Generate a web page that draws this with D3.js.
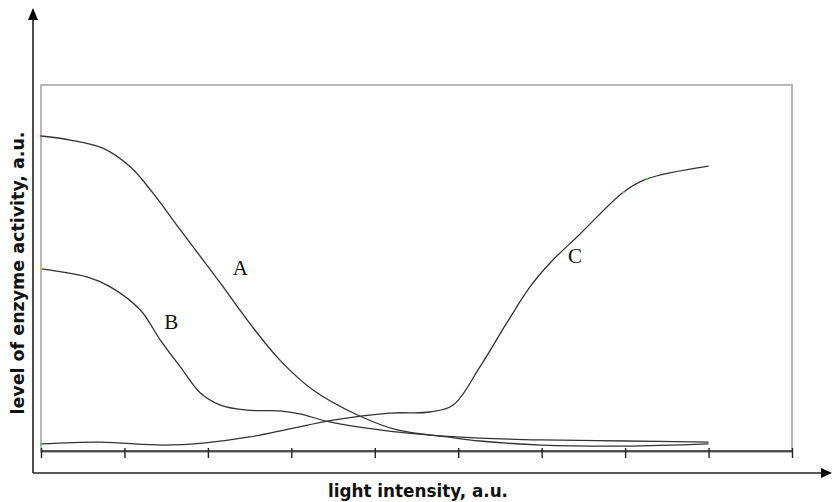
<!DOCTYPE html>
<html>
<head>
<meta charset="utf-8">
<script src="https://cdn.jsdelivr.net/npm/d3@7/dist/d3.min.js"></script>
<style>
  html, body { margin: 0; padding: 0; background: #fff; }
  svg { display: block; }
</style>
</head>
<body>
<svg id="chart" width="832" height="502"></svg>
<script>
// Light intensity (a.u.) positions along the x axis, one tick per unit
const xTicks = [0, 1, 2, 3, 4, 5, 6, 7, 8, 9];

// Enzyme A: high at low light, falls steeply
const curveA = [
  [0, 86.1], [0.35, 85.0], [0.74, 82.8], [1.07, 77.7], [1.34, 70.6],
  [1.67, 60.5], [2.15, 46.0], [2.5, 35.1], [2.86, 25.1], [3.26, 16.9],
  [3.82, 9.8], [4.27, 6.0], [4.87, 4.1], [5.26, 3.0], [6.0, 1.9],
  [7.0, 1.6], [8.0, 2.2]
];

// Enzyme B: moderate at low light, drops to a shoulder then decays
const curveB = [
  [0, 49.9], [0.55, 47.7], [0.83, 45.0], [1.19, 38.7], [1.43, 30.5],
  [1.67, 23.2], [1.91, 16.1], [2.15, 12.8], [2.47, 11.4], [2.86, 11.2],
  [3.1, 10.4], [3.46, 8.2], [4.06, 6.0], [4.66, 4.6], [5.26, 3.8],
  [6.0, 3.3], [7.0, 3.0], [8.0, 2.7]
];

// Enzyme C: low at low light, rises sigmoidally at high light
const curveC = [
  [0, 2.2], [0.71, 2.7], [1.46, 1.9], [1.97, 2.5], [2.5, 4.1],
  [2.98, 6.3], [3.5, 8.7], [4.18, 10.6], [4.66, 10.9], [4.94, 12.8],
  [5.26, 23.2], [5.58, 35.1], [5.86, 45.0], [6.1, 51.5], [6.46, 59.4],
  [6.98, 70.8], [7.26, 74.4], [8.0, 77.9]
];

// Curve names and where each name sits (in data units)
const labels = [
  { text: "A", x: 2.39, y: 48.2 },
  { text: "B", x: 1.56, y: 33.5 },
  { text: "C", x: 6.4, y: 51.6 }
];

const xTitle = "light intensity, a.u.";
const yTitle = "level of enzyme activity, a.u.";

const svg = d3.select("#chart");

const plot = { left: 41, right: 792, top: 85, bottom: 452 };
const x = d3.scaleLinear().domain([0, 9]).range([plot.left, plot.right]);
const y = d3.scaleLinear().domain([0, 100]).range([plot.bottom, plot.top]);

// Plot area frame
svg.append("rect")
  .attr("x", plot.left).attr("y", plot.top)
  .attr("width", plot.right - plot.left).attr("height", plot.bottom - plot.top)
  .attr("fill", "none").attr("stroke", "#a6a6a6").attr("stroke-width", 1.6);

// Tick axis along the bottom of the plot area
const xAxis = d3.axisBottom(x).tickValues(xTicks).tickSize(7).tickFormat("");
const gx = svg.append("g")
  .attr("transform", `translate(0,${plot.bottom - 1})`)
  .call(xAxis);
gx.select(".domain").attr("stroke", "#222").attr("stroke-width", 1.6)
  .attr("d", `M${plot.left},0H${plot.right}`);
gx.selectAll(".tick line").attr("stroke", "#222").attr("stroke-width", 1.4)
  .attr("y1", -3);

// Outer arrowed axes
const axisX0 = 33, axisY0 = 473;
svg.append("line")
  .attr("x1", axisX0).attr("y1", axisY0).attr("x2", 824).attr("y2", axisY0)
  .attr("stroke", "#222").attr("stroke-width", 1.6);
svg.append("path")
  .attr("d", `M832,${axisY0} L821,${axisY0 - 5} L821,${axisY0 + 5} Z`)
  .attr("fill", "#000");
svg.append("line")
  .attr("x1", axisX0).attr("y1", axisY0).attr("x2", axisX0).attr("y2", 18)
  .attr("stroke", "#222").attr("stroke-width", 1.6);
svg.append("path")
  .attr("d", `M${axisX0},8 L${axisX0 - 5},20 L${axisX0 + 5},20 Z`)
  .attr("fill", "#000");

// Activity curves
const line = d3.line()
  .x(d => x(d[0])).y(d => y(d[1]))
  .curve(d3.curveCatmullRom.alpha(0.5));

[curveA, curveB, curveC].forEach(data => {
  svg.append("path")
    .datum(data)
    .attr("d", line)
    .attr("fill", "none")
    .attr("stroke", "#333")
    .attr("stroke-width", 1.3);
});

// Small marker dots left on a few of the data points
const dots = [
  { p: curveA[0], c: "#ff4040" },
  { p: curveB[0], c: "#d8c800" },
  { p: curveC[0], c: "#40d040" },
  { p: curveC[15], c: "#40e040" },
  { p: curveC[16], c: "#40e040" }
];
svg.selectAll("rect.dot").data(dots).join("rect")
  .attr("class", "dot")
  .attr("x", d => x(d.p[0]) - 1).attr("y", d => y(d.p[1]) - 1)
  .attr("width", 2).attr("height", 2)
  .attr("fill", d => d.c);

// Curve names
svg.selectAll("text.curve-label").data(labels).join("text")
  .attr("class", "curve-label")
  .attr("x", d => x(d.x)).attr("y", d => y(d.y))
  .attr("text-anchor", "middle")
  .attr("font-family", "'Liberation Serif', 'Times New Roman', serif")
  .attr("font-size", 21)
  .attr("fill", "#111")
  .text(d => d.text);

// Axis titles
svg.append("text")
  .attr("x", 418).attr("y", 497)
  .attr("text-anchor", "middle")
  .attr("font-family", "'DejaVu Sans Condensed', 'DejaVu Sans', sans-serif")
  .attr("font-weight", "bold")
  .attr("font-size", 17)
  .attr("textLength", 180).attr("lengthAdjust", "spacingAndGlyphs")
  .attr("fill", "#111")
  .text(xTitle);

svg.append("text")
  .attr("transform", "translate(24,273) rotate(-90)")
  .attr("text-anchor", "middle")
  .attr("font-family", "'DejaVu Sans Condensed', 'DejaVu Sans', sans-serif")
  .attr("font-weight", "bold")
  .attr("font-size", 17)
  .attr("textLength", 283).attr("lengthAdjust", "spacingAndGlyphs")
  .attr("fill", "#111")
  .text(yTitle);
</script>
</body>
</html>
